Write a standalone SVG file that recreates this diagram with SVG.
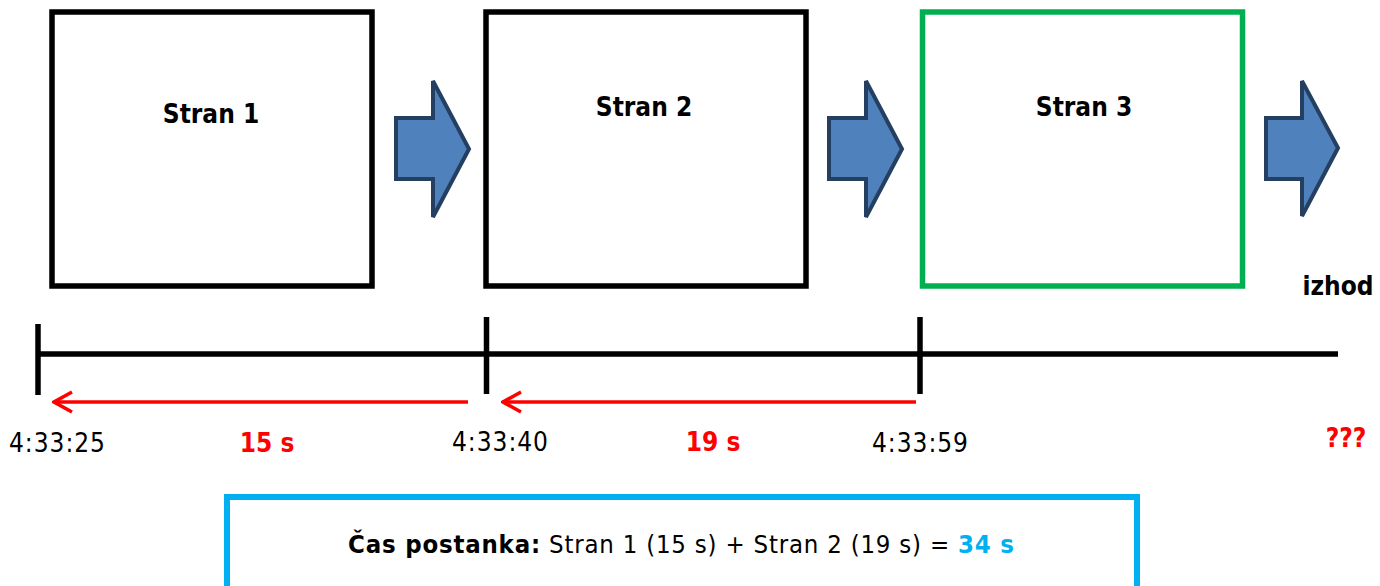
<svg xmlns="http://www.w3.org/2000/svg" width="1380" height="586" viewBox="0 0 1380 586">
<style>
.box{fill:#fff;stroke:#000;stroke-width:5.5}
.green{stroke:#00B050}
.blk{fill:#4F81BD;stroke:#243F60;stroke-width:4;stroke-linejoin:miter}
.t{font-family:"DejaVu Sans Condensed","DejaVu Sans",sans-serif;fill:#000}
.b{font-weight:bold}
.red{fill:#FF0000}
.cy{fill:#00B0F0}
.tl{stroke:#000;stroke-width:5.5;fill:none}
.ra{stroke:#FF0000;stroke-width:3.5;fill:none}
</style>
<defs>
<marker id="open" viewBox="0 0 22 24" refX="20" refY="12" markerWidth="22" markerHeight="24" markerUnits="userSpaceOnUse" orient="auto">
<path d="M2,2 L20,12 L2,22" fill="none" stroke="#FF0000" stroke-width="3.5"/>
</marker>
</defs>
<rect width="1380" height="586" fill="#fff"/>
<g id="stran1">
<rect class="box" x="52" y="12" width="320" height="274"/>
<text class="t b" x="211" y="123" font-size="26" text-anchor="middle">Stran 1</text>
</g>
<g id="stran2">
<rect class="box" x="486" y="12" width="320" height="274"/>
<text class="t b" x="644" y="116" font-size="26" text-anchor="middle">Stran 2</text>
</g>
<g id="stran3">
<rect class="box green" x="922.5" y="12" width="320" height="274"/>
<text class="t b" x="1084" y="116" font-size="26" text-anchor="middle">Stran 3</text>
</g>
<g id="izhod">
<text class="t b" x="1338" y="295" font-size="26" text-anchor="middle">izhod</text>
</g>
<g id="connectors">
<polygon class="blk" points="396,118 433,118 433,81 469,149 433,217 433,179 396,179"/>
<polygon class="blk" points="829,118 866,118 866,81 902,149 866,217 866,179 829,179"/>
<polygon class="blk" points="1266,118 1302,118 1302,81 1338,148 1302,216 1302,179 1266,179"/>
<line class="tl" x1="36" y1="354" x2="1338" y2="354"/>
<line class="tl" x1="38" y1="324" x2="38" y2="395"/>
<line class="tl" x1="486.5" y1="317" x2="486.5" y2="394"/>
<line class="tl" x1="920" y1="317" x2="920" y2="394"/>
<line class="ra" x1="468" y1="402" x2="54" y2="402" marker-end="url(#open)"/>
<line class="ra" x1="916" y1="402" x2="503" y2="402" marker-end="url(#open)"/>
</g>
<g id="labels">
<text class="t" x="57" y="452" font-size="26" text-anchor="middle" textLength="96">4:33:25</text>
<text class="t b red" x="267" y="452" font-size="26" text-anchor="middle">15 s</text>
<text class="t" x="500" y="451" font-size="26" text-anchor="middle" textLength="96">4:33:40</text>
<text class="t b red" x="713" y="451" font-size="26" text-anchor="middle">19 s</text>
<text class="t" x="920" y="452" font-size="26" text-anchor="middle" textLength="96">4:33:59</text>
<text class="t b red" x="1346" y="447" font-size="26" text-anchor="middle">???</text>
</g>
<g id="summary">
<rect x="227" y="497" width="910" height="100" fill="#fff" stroke="#00B0F0" stroke-width="6"/>
<text class="t" x="681" y="553" font-size="25.5" text-anchor="middle" textLength="666"><tspan class="b">Čas postanka:</tspan> Stran 1 (15 s) + Stran 2 (19 s) = <tspan class="b cy">34 s</tspan></text>
</g>
</svg>
